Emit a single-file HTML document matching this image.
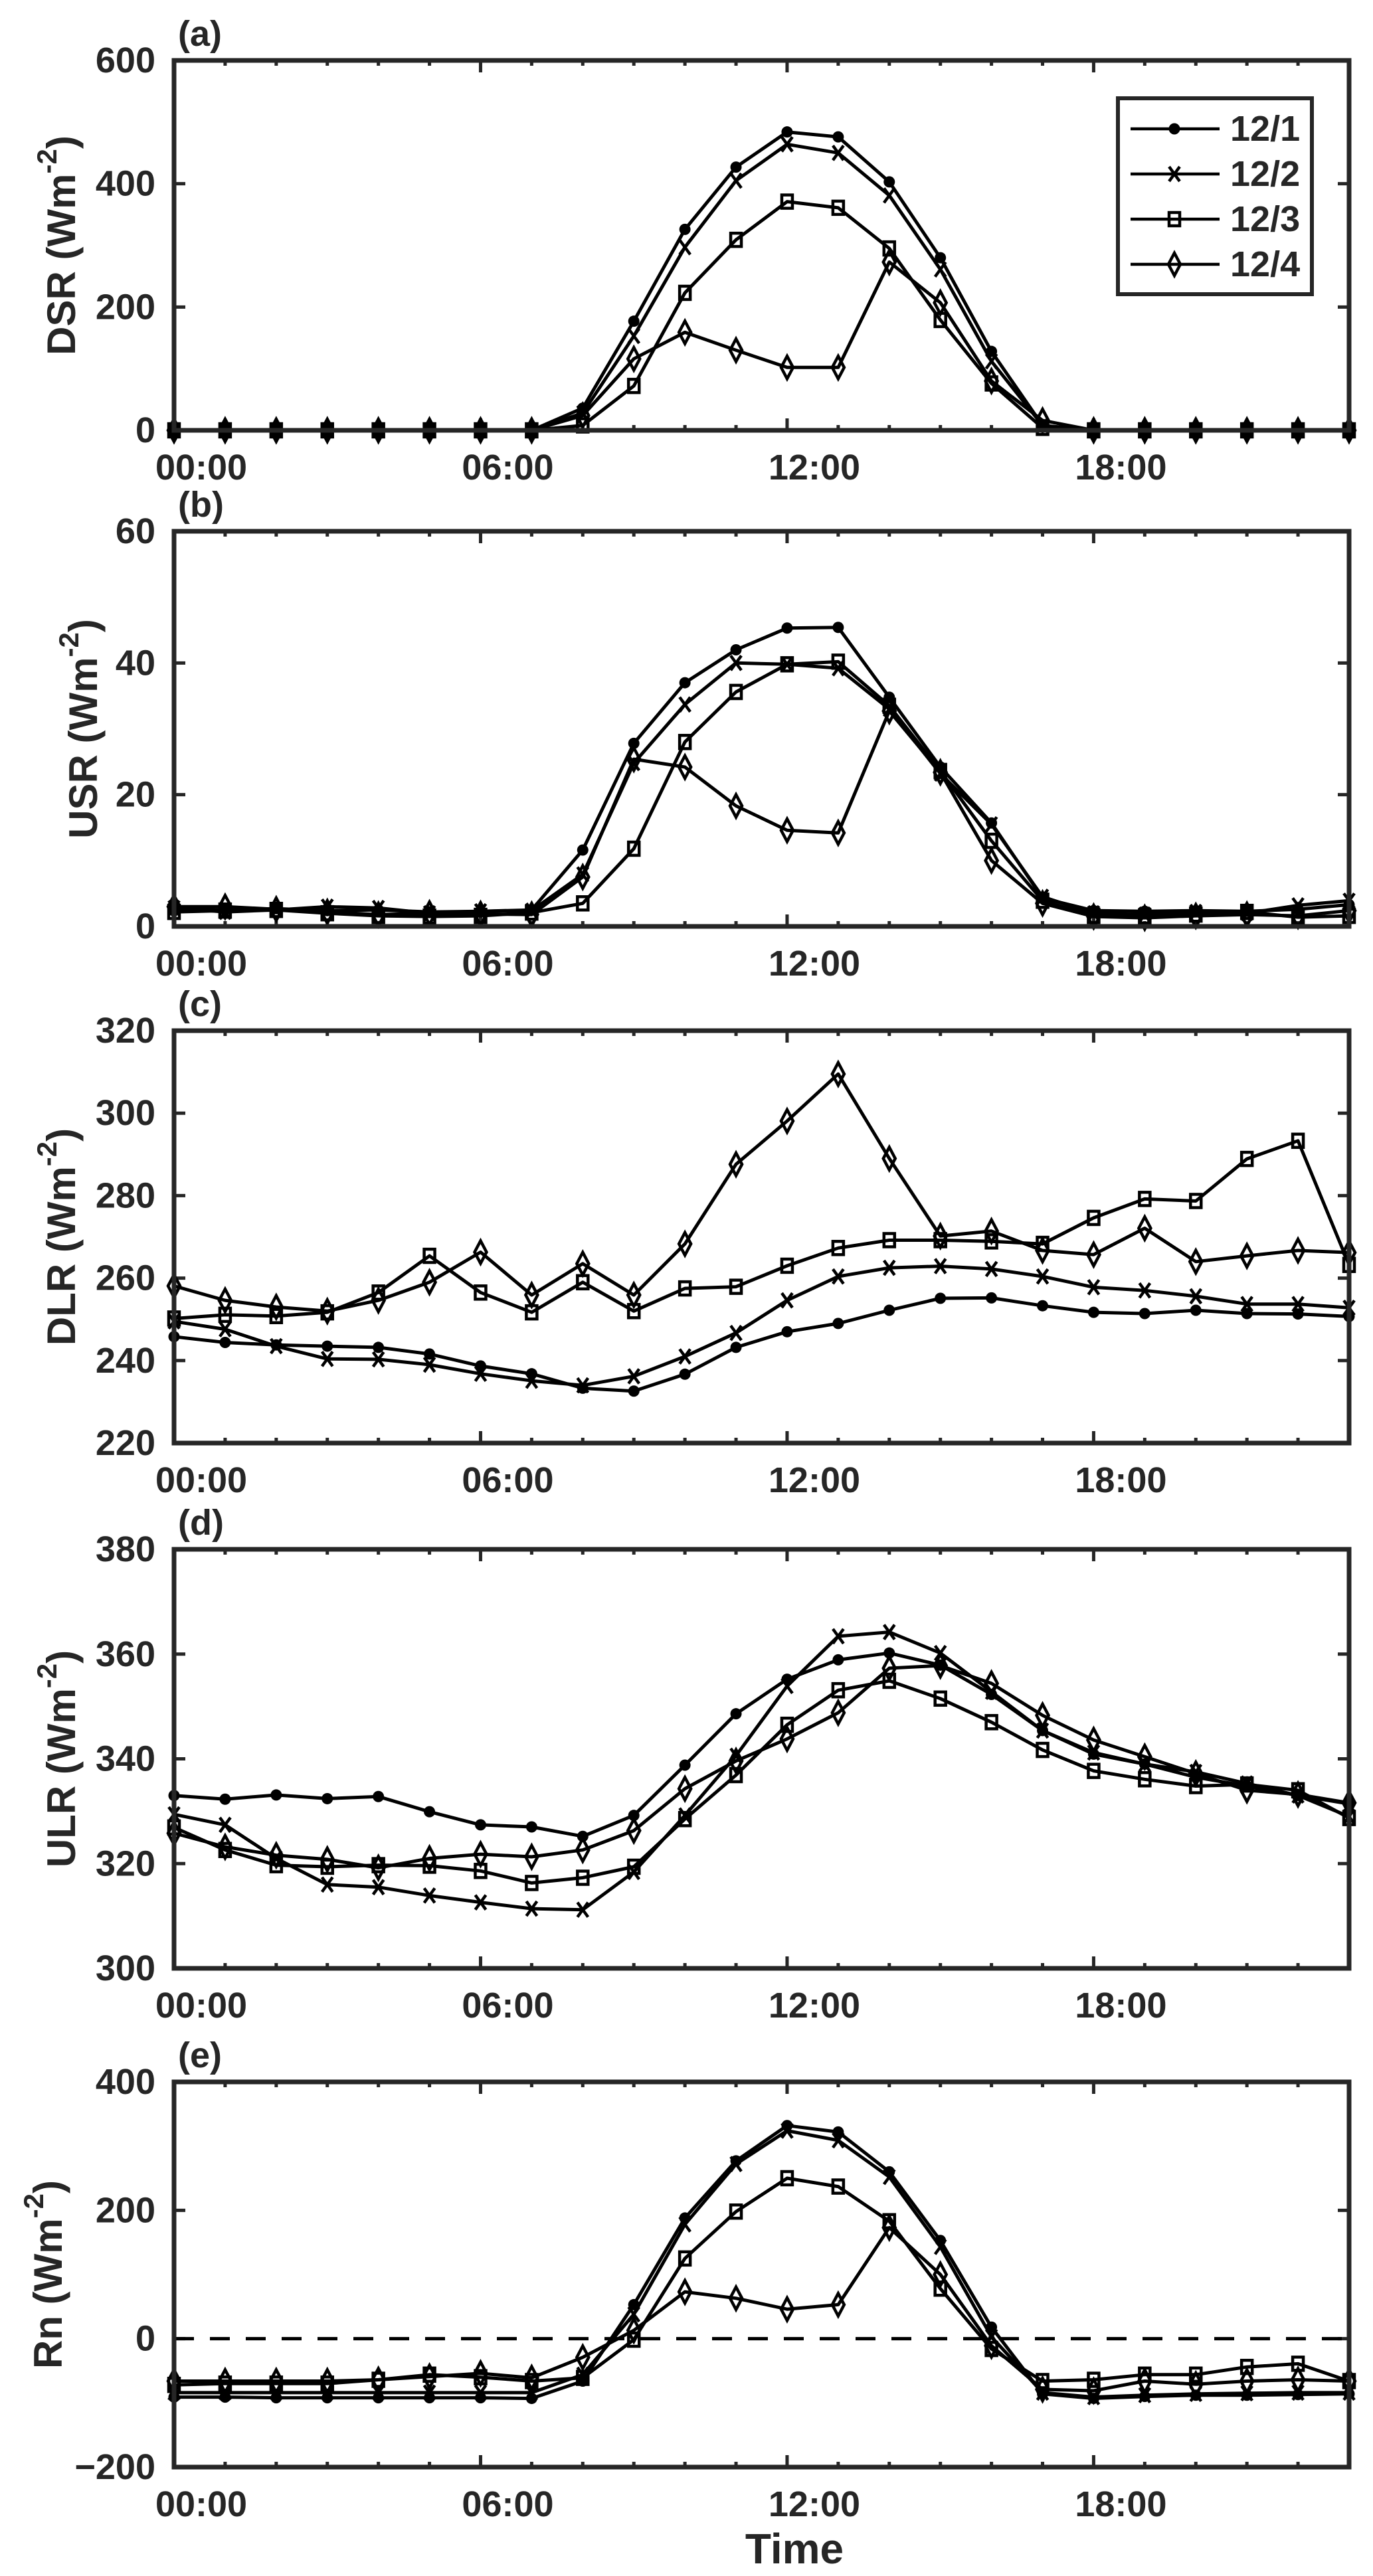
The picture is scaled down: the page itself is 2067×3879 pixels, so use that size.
<!DOCTYPE html>
<html><head><meta charset="utf-8"><style>
html,body{margin:0;padding:0;background:#fff}
svg{display:block}
text{font-family:"Liberation Sans",Arial,sans-serif;font-weight:bold;fill:#262626}
</style></head><body>
<svg id="fig" width="2067" height="3879" viewBox="0 0 2067 3879" xmlns="http://www.w3.org/2000/svg"></svg>
<script>
const hours = [0,1,2,3,4,5,6,7,8,9,10,11,12,13,14,15,16,17,18,19,20,21,22,23];
const xTickHours = [0,6,12,18];
const xTickLabels = ["00:00","06:00","12:00","18:00"];
const seriesNames = ["12/1","12/2","12/3","12/4"];

const dsr1 = [0,0,0,0,0,0,0,0,36,177,326,427,484,476,403,280,128,8,0,0,0,0,0,0];
const dsr2 = [0,0,0,0,0,0,0,0,28,153,297,405,464,450,381,261,112,8,0,0,0,0,0,0];
const dsr3 = [0,0,0,0,0,0,0,0,8,72,223,309,371,361,295,179,76,4,0,0,0,0,0,0];
const dsr4 = [0,0,0,0,0,0,0,0,24,116,159,130,102,102,273,207,80,16,0,0,0,0,0,0];
const dsrTicks = [0,200,400,600];

const usr1 = [2.6,2.5,2.7,2.4,2.5,2.2,2.3,2.5,11.6,27.8,37,42,45.3,45.4,34.8,24.2,15.7,4.3,2.4,2.3,2.4,2.3,2.6,3.3];
const usr2 = [2.8,2.2,2.5,3.0,2.8,2.0,2.3,2.4,7.9,24.8,33.7,40,39.8,39.2,33,23.2,15.5,4.5,2.0,1.8,2.2,2.0,3.2,3.9];
const usr3 = [2.2,2.4,2.5,2.0,1.6,1.5,1.6,2.1,3.5,11.8,28,35.6,39.8,40.2,33.5,23.6,13,3.9,1.6,1.5,1.8,2.2,1.4,1.6];
const usr4 = [3.0,3.0,2.6,2.2,1.8,2.0,1.9,1.8,7.5,25.4,24.2,18.3,14.6,14.2,32.7,23.4,10,3.5,1.5,1.3,1.6,1.8,1.6,2.4];
const usrTicks = [0,20,40,60];

const dlr1 = [245.8,244.4,243.8,243.5,243.2,241.6,238.7,236.8,233.3,232.6,236.7,243.2,247,249,252.2,255.1,255.2,253.3,251.7,251.4,252.2,251.4,251.3,250.7];
const dlr2 = [249.5,247.6,243.5,240.4,240.3,239,236.8,235.1,234,236.2,241,246.7,254.6,260.4,262.5,262.9,262.2,260.4,257.8,257,255.6,253.7,253.7,252.8];
const dlr3 = [250.2,251.1,250.8,251.7,256.5,265.4,256.5,251.7,259,252,257.5,257.9,263,267.3,269.2,269.2,268.9,268.3,274.6,279.2,278.7,288.9,293.3,263.2];
const dlr4 = [258.1,254.6,253,252,254.6,259,266.3,255.9,263.5,255.9,268.3,287.6,298.1,309.5,289,270.2,271.4,266.7,265.7,272.1,264,265.4,266.7,266.2];
const dlrTicks = [220,240,260,280,300,320];

const ulr1 = [333,332.3,333.1,332.4,332.8,329.9,327.4,327,325.2,329.2,338.8,348.6,355.2,358.9,360.2,357.9,352.3,345.4,340.9,339,336.5,334.8,333,331.4];
const ulr2 = [329.4,327.4,321,316,315.5,313.9,312.6,311.4,311.2,318.4,329.2,340.6,353.9,363.4,364.2,360.2,352.8,345.4,341.2,339,337.5,335.3,333,329];
const ulr3 = [326.9,322.6,319.7,319.4,319.7,319.6,318.6,316.3,317.3,319.4,328.5,336.9,346.5,353.1,354.9,351.5,347,341.7,337.7,336.1,334.8,335.1,334,328.7];
const ulr4 = [325.8,323.2,321.6,320.8,319.2,321,321.8,321.3,322.6,326.3,334.3,339.6,343.8,348.8,357.3,357.8,354.4,348.3,343.6,340.4,337.2,334,333.2,331.6];
const ulrTicks = [300,320,340,360,380];

const rn1 = [-91,-91,-92,-92,-92,-92,-92,-93,-66,53,188,277,332,322,260,153,18,-86,-93,-90,-88,-88,-87,-86];
const rn2 = [-84,-84,-84,-84,-84,-84,-84,-84,-56,38,178,272,324,309,252,143,3,-84,-91,-88,-86,-85,-84,-84];
const rn3 = [-72,-70,-70,-70,-64,-56,-60,-66,-61,-1.5,125,198,250,237,183,78,-16,-66,-64,-56,-56,-44,-39,-66];
const rn4 = [-66,-66,-66,-66,-64,-59,-54,-61,-29,13,73,63,46,53,173,100,-11,-79,-81,-66,-71,-66,-64,-66];
const rnTicks = [-200,0,200,400];
</script>
<script>
const NS = "http://www.w3.org/2000/svg";
const svg = document.getElementById('fig');
const X0 = 262, X1 = 2031, HMAX = 23;
function xs(h){ return X0 + (X1 - X0) * h / HMAX; }
function mk(tag, attrs, parent){
  const e = document.createElementNS(NS, tag);
  for (const k in attrs) e.setAttribute(k, attrs[k]);
  (parent || svg).appendChild(e);
  return e;
}
const markerTypes = ["dot","x","square","diamond"];
function drawMarker(g, type, x, y){
  let m;
  if (type === "dot") {
    m = mk('circle', {cx:x, cy:y, r:8.5, fill:'#000'}, g);
  } else if (type === "x") {
    m = mk('path', {d:`M${x-8},${y-11}L${x+8},${y+11}M${x-8},${y+11}L${x+8},${y-11}`, stroke:'#000','stroke-width':4.5, fill:'none'}, g);
  } else if (type === "square") {
    m = mk('rect', {x:x-8, y:y-10, width:16, height:20, fill:'none', stroke:'#000','stroke-width':4.5}, g);
  } else {
    m = mk('path', {d:`M${x},${y-17}L${x+9},${y}L${x},${y+17}L${x-9},${y}Z`, fill:'none', stroke:'#000','stroke-width':4.5}, g);
  }
  
  
}

function panel(cfg){
  const {key, top, bottom, ymin, ymax, ticks, series, label, letter, titleX, zeroLine} = cfg;
  const ys = v => bottom - (bottom - top) * (v - ymin) / (ymax - ymin);
  const g = mk('g', {});
  
  

  const pl = mk('text', {x:268, y:top - 22, 'font-size':54}, g);
  pl.textContent = '(' + letter + ')';
  
  

  const cy = (top + bottom) / 2;
  const yt = mk('text', {x:titleX, y:cy, 'font-size':60, 'text-anchor':'middle', 'dominant-baseline':'central', transform:`rotate(-90 ${titleX} ${cy})`}, g);
  
  
  const t1 = mk('tspan', {}, yt); t1.textContent = label + ' (Wm';
  const t2 = mk('tspan', {dy:-22, 'font-size':42}, yt); t2.textContent = '-2';
  const t3 = mk('tspan', {dy:22}, yt); t3.textContent = ')';

  ticks.forEach(v => {
    const y = ys(v);
    const tl = mk('text', {x:234, y:y, 'font-size':54, 'text-anchor':'end', 'dominant-baseline':'central'}, g);
    tl.textContent = String(v).replace('-', '\u2212');
    
    
    mk('line', {x1:X0, x2:X0+17, y1:y, y2:y, stroke:'#262626','stroke-width':5}, g);
    mk('line', {x1:X1, x2:X1-17, y1:y, y2:y, stroke:'#262626','stroke-width':5}, g);
  });
  hours.forEach(h => {
    const x = xs(h);
    const len = xTickHours.includes(h) ? 18 : 8;
    mk('line', {x1:x, x2:x, y1:bottom, y2:bottom-len, stroke:'#262626','stroke-width':5}, g);
    mk('line', {x1:x, x2:x, y1:top, y2:top+len, stroke:'#262626','stroke-width':5}, g);
  });
  xTickHours.forEach((h, i) => {
    const tl = mk('text', {x:xs(h) + 41, y:bottom + 56, 'font-size':54, 'text-anchor':'middle', 'dominant-baseline':'central'}, g);
    tl.textContent = xTickLabels[i];
    
    
  });

  if (zeroLine) {
    const zl = mk('line', {x1:X0, x2:X1, y1:ys(0), y2:ys(0), stroke:'#000','stroke-width':5,'stroke-dasharray':'30 24'}, g);
    
    
  }

  series.forEach((vals, si) => {
    const sg = mk('g', {}, g);
    
    
    const pts = vals.map((v, i) => xs(hours[i]).toFixed(1) + ',' + ys(v).toFixed(1)).join(' ');
    const pl2 = mk('polyline', {points:pts, fill:'none', stroke:'#000','stroke-width':5,'stroke-linejoin':'round'}, sg);
    
    
    vals.forEach((v, i) => drawMarker(sg, markerTypes[si], xs(hours[i]), ys(v)));
  });

  const fr = mk('rect', {x:X0, y:top, width:X1-X0, height:bottom-top, fill:'none', stroke:'#262626','stroke-width':7}, g);
  
  
}

panel({key:'dsr', letter:'a', label:'DSR', top:91, bottom:648, ymin:0, ymax:600, ticks:dsrTicks, series:[dsr1,dsr2,dsr3,dsr4], titleX:92});
panel({key:'usr', letter:'b', label:'USR', top:800, bottom:1395, ymin:0, ymax:60, ticks:usrTicks, series:[usr1,usr2,usr3,usr4], titleX:125});
panel({key:'dlr', letter:'c', label:'DLR', top:1552, bottom:2173, ymin:220, ymax:320, ticks:dlrTicks, series:[dlr1,dlr2,dlr3,dlr4], titleX:92});
panel({key:'ulr', letter:'d', label:'ULR', top:2333, bottom:2964, ymin:300, ymax:380, ticks:ulrTicks, series:[ulr1,ulr2,ulr3,ulr4], titleX:92});
panel({key:'rn', letter:'e', label:'Rn', top:3135, bottom:3715, ymin:-200, ymax:400, ticks:rnTicks, series:[rn1,rn2,rn3,rn4], titleX:72, zeroLine:true});

const xt = mk('text', {x:1196, y:3838, 'font-size':64, 'text-anchor':'middle', 'dominant-baseline':'central'});
xt.textContent = 'Time';



const lg = mk('g', {});


mk('rect', {x:1683, y:148, width:292, height:295, fill:'#fff', stroke:'#262626','stroke-width':6}, lg);
const legY = [194, 262, 330, 398];
seriesNames.forEach((n, i) => {
  const eg = mk('g', {}, lg);
  
  
  mk('line', {x1:1702, x2:1836, y1:legY[i], y2:legY[i], stroke:'#000','stroke-width':4.5}, eg);
  drawMarker(eg, markerTypes[i], 1768, legY[i]);
  const t = mk('text', {x:1852, y:legY[i], 'font-size':54, 'dominant-baseline':'central', fill:'#000'}, eg);
  t.textContent = n;
});
</script>
</body></html>
